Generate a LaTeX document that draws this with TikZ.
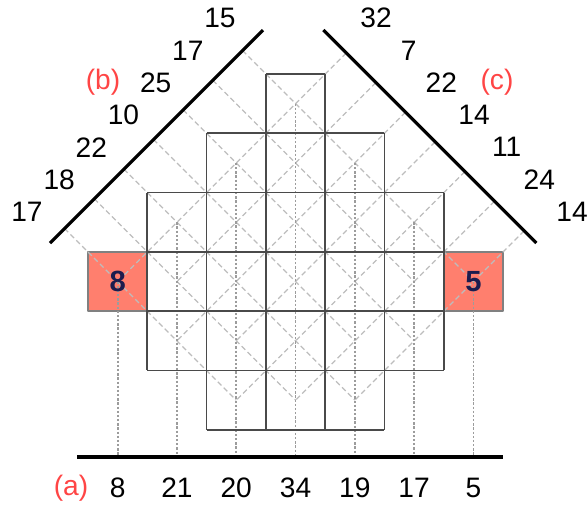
\documentclass[tikz,border=0pt]{standalone}
\usepackage{fontspec}
\setmainfont{Liberation Sans}

\definecolor{boxsalmon}{HTML}{FF7F6E}
\definecolor{tagred}{HTML}{FF4545}
\definecolor{boxnavy}{HTML}{1C1C4E}
\definecolor{cellgray}{HTML}{4A4A4A}
\definecolor{raygray}{HTML}{BDBDBD}
\definecolor{dropgray}{HTML}{9C9C9C}

\begin{document}
\begin{tikzpicture}[
  x=1cm,
  y=-1cm,
  line join=round,
  cell/.style={draw=cellgray,line width=0.85pt},
  redcell/.style={draw=gray,fill=boxsalmon,line width=0.85pt},
  ray/.style={draw=raygray,line width=0.6pt,dash pattern=on 2.5pt off 1.5pt},
  drop/.style={draw=dropgray,line width=0.9pt,dash pattern=on 1.1pt off 0.9pt},
  axisline/.style={draw=black,line width=1.5pt},
  baseline/.style={draw=black,line width=2.1pt},
  num/.style={font=\fontsize{13.5}{16}\selectfont,inner sep=0pt},
  tag/.style={num,text=tagred},
  boxnum/.style={num,font=\fontsize{14}{16}\selectfont\bfseries,text=boxnavy}
]
  % Match the original frame: one grid cell is one unit.
  \useasboundingbox (-1.484,-1.248) rectangle (8.432,7.302);

  % Projection lines (b), (c) and the base line (a).
  \coordinate (bLow) at (-0.641,2.851);
  \coordinate (bHigh) at (2.951,-0.741);
  \coordinate (cHigh) at (3.968,-0.742);
  \coordinate (cLow) at (7.560,2.850);
  \coordinate (aLeft) at (-0.185,6.46);
  \coordinate (aRight) at (7.0,6.46);

  % The two highlighted cells.
  \draw[redcell] (0,3) rectangle (1,4);
  \draw[redcell] (6,3) rectangle (7,4);

  % Rays towards (b), ending at the centre of the last cell.
  \foreach \k/\ex/\ey in {3/6.5/3.5, 2/5.5/3.5, 1/5.5/4.5, 0/4.5/4.5,
                          -1/4.5/5.5, -2/3.5/5.5, -3/2.5/5.5}
    \draw[ray] ({1.105+\k/2},{1.105-\k/2}) -- (\ex,\ey);

  % Rays towards (c).
  \foreach \k/\ex/\ey in {3/0.5/3.5, 4/1.5/3.5, 5/1.5/4.5, 6/2.5/4.5,
                          7/2.5/5.5, 8/3.5/5.5, 9/4.5/5.5}
    \draw[ray] ({(\k+5.71)/2},{(\k-3.71)/2}) -- (\ex,\ey);

  % Vertical drops onto (a), from the top cell of each column.
  \foreach \c/\top in {0/3, 1/2, 2/1, 3/0, 4/1, 5/2, 6/3}
    \draw[drop] (\c+0.5,\top+0.5) -- (\c+0.5,6.46);

  % Grid lines, each drawn once: horizontal, then vertical.
  \foreach \y/\from/\to in {0/3/4, 1/2/5, 2/1/6, 3/1/6, 4/1/6, 5/1/6, 6/2/5}
    \draw[cell] (\from,\y) -- (\to,\y);
  \foreach \x/\from/\to in {1/2/5, 2/1/6, 3/0/6, 4/0/6, 5/1/6, 6/2/5}
    \draw[cell] (\x,\from) -- (\x,\to);

  \draw[axisline] (bLow) -- (bHigh);
  \draw[axisline] (cHigh) -- (cLow);
  \draw[baseline] (aLeft) -- (aRight);

  % Cell values.
  \node[boxnum] (cellLeft) at (0.5,3.5) {8};
  \node[boxnum] (cellRight) at (6.5,3.5) {5};

  % Sums along (a).
  \node[tag] (tagA) at (-0.287,6.98) {(a)};
  \foreach \v [count=\i from 0] in {8,21,20,34,19,17,5}
    \node[num] (sumA\i) at (\i+0.5,6.98) {\v};

  % Sums along (b), bottom to top.
  \node[tag] (tagB) at (0.253,0.135) {(b)};
  \foreach \v [count=\i from 0] in {17,18,22,10,25,17,15}
    \node[num] (sumB\i) at ({-1.029+0.5425*\i},{2.327-0.545*\i}) {\v};

  % Sums along (c), top to bottom.
  \node[tag] (tagC) at (6.897,0.135) {(c)};
  \foreach \v [count=\i from 0] in {32,7,22,14,11,24,14}
    \node[num] (sumC\i) at ({4.857+0.551*\i},{-0.944+0.545*\i}) {\v};
\end{tikzpicture}
\end{document}
